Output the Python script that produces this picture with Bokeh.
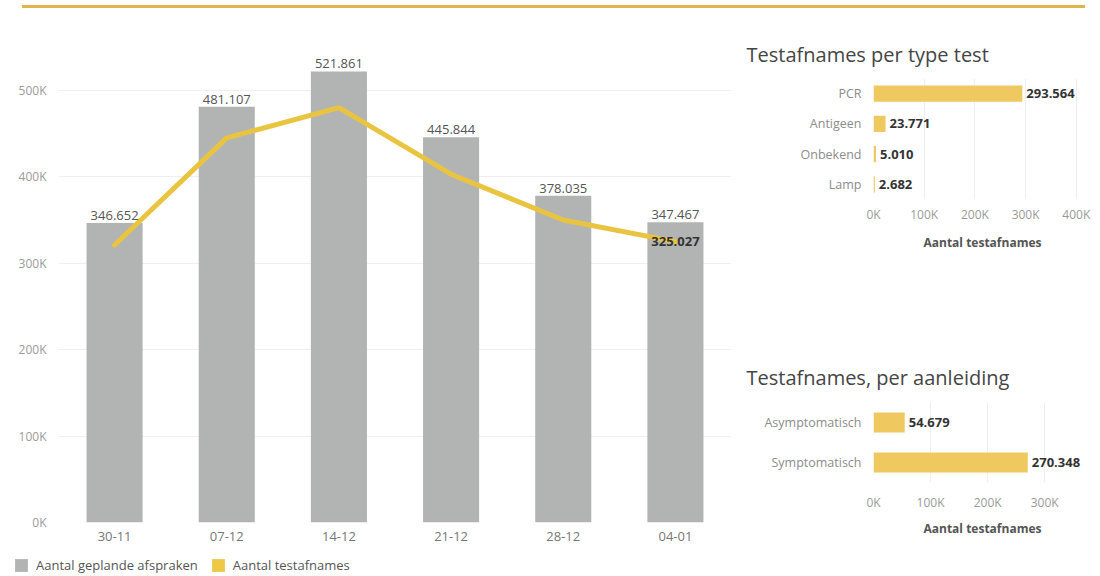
from bokeh.plotting import figure
from bokeh.models import (ColumnDataSource, FactorRange, Range1d, FixedTicker,
                          Legend, LegendItem, Div)
from bokeh.layouts import row, column
from bokeh.embed import file_html
from bokeh.resources import INLINE
from bokeh.core.properties import value

# ---------------- data ----------------
weeks = ["30-11", "07-12", "14-12", "21-12", "28-12", "04-01"]
geplande_afspraken = [346652, 481107, 521861, 445844, 378035, 347467]
testafnames = [321000, 445000, 480000, 403000, 350000, 325027]
main_ticks = [0, 100000, 200000, 300000, 400000, 500000]
main_tick_labels = ["0K", "100K", "200K", "300K", "400K", "500K"]

test_types = ["PCR", "Antigeen", "Onbekend", "Lamp"]
type_values = [293564, 23771, 5010, 2682]
type_ticks = [0, 100000, 200000, 300000, 400000]
type_tick_labels = ["0K", "100K", "200K", "300K", "400K"]

reasons = ["Asymptomatisch", "Symptomatisch"]
reason_values = [54679, 270348]
reason_ticks = [0, 100000, 200000, 300000]
reason_tick_labels = ["0K", "100K", "200K", "300K"]

# ---------------- style ----------------
FONT = "Open Sans"
GRAY_BAR = "#b2b4b4"
YELLOW = "#e9c440"
YELLOW_BAR = "#efc860"
GRID = "#efefef"


def nl(v):
    return f"{v:,}".replace(",", ".")


def style_common(p):
    p.outline_line_color = None
    p.background_fill_color = "white"
    p.border_fill_color = "white"
    for ax in p.axis:
        ax.axis_line_color = None
        ax.major_tick_line_color = None
        ax.minor_tick_line_color = None
        ax.major_label_text_font = FONT
        ax.axis_label_text_font = FONT


# ---------------- top rule ----------------
rule = Div(text="", width=1063, height=3, margin=(5, 0, 0, 22),
           styles={"background-color": "#dfb54a"})

# ---------------- main chart ----------------
src = ColumnDataSource(dict(
    week=weeks,
    geplande=geplande_afspraken,
    test=testafnames,
    geplande_lbl=[nl(v) for v in geplande_afspraken],
))

p = figure(x_range=FactorRange(*weeks), y_range=Range1d(0, 560000),
           width=739, height=536, output_backend="svg", toolbar_location=None,
           min_border_left=58, min_border_right=8, min_border_top=30,
           min_border_bottom=22)
style_common(p)

p.vbar(x="week", top="geplande", width=0.5, source=src,
       fill_color=GRAY_BAR, line_color=None)
p.line(x="week", y="test", source=src, line_color=YELLOW, line_width=5,
       line_join="round", line_cap="round")
p.text(x="week", y="geplande", text="geplande_lbl", source=src,
       text_align="center", text_baseline="bottom", y_offset=-3,
       text_font=value(FONT), text_font_size="13px", text_color="#555555")

last_src = ColumnDataSource(dict(x=[weeks[-1]], y=[testafnames[-1]],
                                 t=[nl(testafnames[-1])]))
p.text(x="x", y="y", text="t", source=last_src, text_align="center",
       text_baseline="middle", text_font=value(FONT), text_font_size="13px",
       text_font_style="bold", text_color="#333333")

p.xgrid.grid_line_color = None
p.ygrid.grid_line_color = GRID
p.ygrid.ticker = FixedTicker(ticks=main_ticks)
p.yaxis.ticker = FixedTicker(ticks=main_ticks)
p.yaxis.major_label_overrides = dict(zip(main_ticks, main_tick_labels))
p.yaxis.major_label_text_color = "#9a9a9a"
p.yaxis.major_label_text_font_size = "12px"
p.yaxis.major_label_standoff = 6
p.xaxis.major_label_text_color = "#777777"
p.xaxis.major_label_text_font_size = "13px"
p.xaxis.major_label_standoff = 3

# ---------------- legend strip for the main chart ----------------
leg = figure(x_range=FactorRange(*weeks), y_range=Range1d(0, 1),
             width=739, height=31, output_backend="svg", toolbar_location=None,
             x_axis_location=None, y_axis_location=None, min_border=0,
             outline_line_color=None)
leg.grid.grid_line_color = None
# zero-size bars of both series: they only supply the legend's square swatches
sw_gepland = leg.vbar(x="week", top="geplande", bottom="geplande", width=0,
                      source=src, fill_color=GRAY_BAR, line_color=None)
sw_test = leg.vbar(x="week", top="test", bottom="test", width=0,
                   source=src, fill_color="#edc948", line_color=None)
legend = Legend(items=[
    LegendItem(label="Aantal geplande afspraken", renderers=[sw_gepland]),
    LegendItem(label="Aantal testafnames", renderers=[sw_test]),
], location=(13, 2), orientation="horizontal", glyph_width=16,
    glyph_height=16, label_height=16, label_standoff=7, spacing=12,
    padding=0, margin=0, border_line_color=None, background_fill_alpha=0,
    label_text_font=FONT, label_text_font_size="13px",
    label_text_color="#555555")
leg.add_layout(legend, "center")

# ---------------- right chart 1 ----------------
src1 = ColumnDataSource(dict(cat=test_types, val=type_values,
                             lbl=[nl(v) for v in type_values]))
p1 = figure(y_range=FactorRange(*test_types[::-1]), x_range=Range1d(0, 430000),
            width=352, height=252, output_backend="svg", toolbar_location=None,
            min_border_left=134, min_border_right=0, min_border_top=70,
            min_border_bottom=61, title="Testafnames per type test")
style_common(p1)
p1.hbar(y="cat", right="val", height=0.53, source=src1,
        fill_color=YELLOW_BAR, line_color=None)
p1.text(x="val", y="cat", text="lbl", source=src1, x_offset=4,
        text_align="left", text_baseline="middle", text_font=value(FONT),
        text_font_size="13px", text_font_style="bold", text_color="#333333")
p1.xaxis.major_label_standoff = 0
p1.xaxis.axis_label_standoff = 8
p1.title.standoff = 22

# ---------------- right chart 2 ----------------
src2 = ColumnDataSource(dict(cat=reasons, val=reason_values,
                             lbl=[nl(v) for v in reason_values]))
p2 = figure(y_range=FactorRange(*reasons[::-1]), x_range=Range1d(0, 382000),
            width=352, height=285, output_backend="svg", toolbar_location=None,
            min_border_left=134, min_border_right=0, min_border_top=142,
            min_border_bottom=63, title="Testafnames, per aanleiding")
style_common(p2)
p2.hbar(y="cat", right="val", height=0.5, source=src2,
        fill_color=YELLOW_BAR, line_color=None)
p2.text(x="val", y="cat", text="lbl", source=src2, x_offset=4,
        text_align="left", text_baseline="middle", text_font=value(FONT),
        text_font_size="13px", text_font_style="bold", text_color="#333333")
p2.xaxis.major_label_standoff = 5
p2.xaxis.axis_label_standoff = 6
p2.title.standoff = 24

for f, ticks, labels in ((p1, type_ticks, type_tick_labels),
                         (p2, reason_ticks, reason_tick_labels)):
    f.ygrid.grid_line_color = None
    f.xgrid.grid_line_color = GRID
    f.xgrid.ticker = FixedTicker(ticks=ticks)
    f.xaxis.ticker = FixedTicker(ticks=ticks)
    f.xaxis.major_label_overrides = dict(zip(ticks, labels))
    f.xaxis.major_label_text_color = "#9a9a9a"
    f.xaxis.major_label_text_font_size = "12px"
    f.xaxis.axis_label = "Aantal testafnames"
    f.xaxis.axis_label_text_font_style = "bold"
    f.xaxis.axis_label_text_font_size = "12px"
    f.xaxis.axis_label_text_color = "#555555"
    f.yaxis.major_label_text_color = "#8c8c8c"
    f.yaxis.major_label_text_font_size = "12.5px"
    f.yaxis.major_label_standoff = 6
    f.title.text_font = FONT
    f.title.text_font_size = "20px"
    f.title.text_font_style = "normal"
    f.title.text_color = "#454545"
    f.title.align = "left"
    f.title.offset = -127

layout = column(rule, row(p, column(p1, p2)), leg)

open("out.html", "w").write(file_html(layout, INLINE))
